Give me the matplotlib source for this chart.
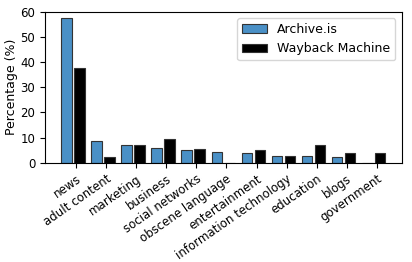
import numpy as np
import matplotlib
matplotlib.use('Agg')
import matplotlib.pyplot as plt

categories = ['news', 'adult content', 'marketing', 'business', 'social networks',
              'obscene language', 'entertainment', 'information technology',
              'education', 'blogs', 'government']
archive_is = [57.5, 8.5, 7.0, 6.0, 5.0, 4.2, 3.7, 2.7, 2.5, 2.3, 0.0]
wayback = [37.5, 2.3, 7.0, 9.5, 5.5, 0.0, 5.0, 2.8, 7.0, 3.8, 3.7]

plt.rcParams['font.size'] = 9

fig = plt.figure(figsize=(4.12, 2.62), dpi=100)
ax = fig.add_axes([0.109, 0.379, 0.866, 0.576])

ind = np.arange(len(categories))
width = 0.35
ax.bar(ind, archive_is, width, color='#4a90c6', edgecolor='#333333', linewidth=0.8,
       label='Archive.is')
ax.bar(ind + 0.43, wayback, width, color='black', edgecolor='#333333', linewidth=0.8,
       label='Wayback Machine')

ax.set_ylim(0, 60)
ax.set_yticks([0, 10, 20, 30, 40, 50, 60])
ax.tick_params(labelsize=8.5)
ax.set_ylabel('Percentage (%)', labelpad=1.5)
ax.set_xticks(ind + 0.32)
ax.set_xticklabels(categories, rotation=35, ha='right', rotation_mode='anchor')
ax.legend(loc='upper right')

fig.savefig('out.png', dpi=100)
